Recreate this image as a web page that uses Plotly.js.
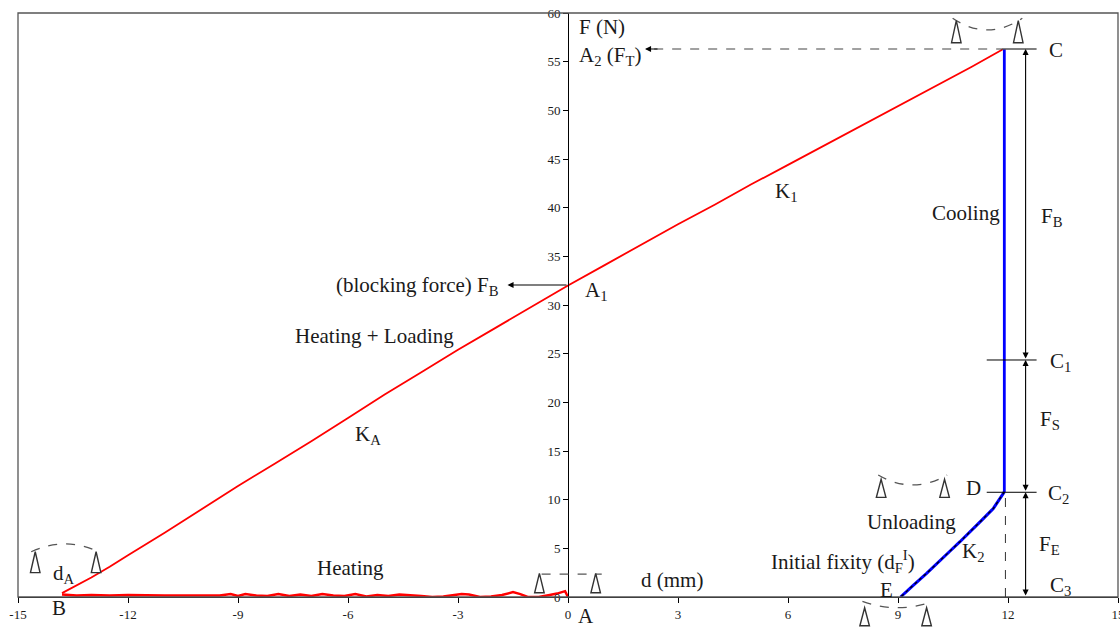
<!DOCTYPE html>
<html>
<head>
<meta charset="utf-8">
<script src="https://cdn.plot.ly/plotly-3.0.1.min.js"></script>
<style>
  html, body { margin: 0; padding: 0; background: #ffffff; }
  #chart { width: 1120px; height: 627px; }
</style>
</head>
<body>
<div id="chart"></div>
<script>
// Force F (N) against displacement d (mm) for one thermo-mechanical cycle.

// Heating + Loading branch (B -> A1 -> C)
const loadX = [-13.8, -13.5, -13.0, -12.5, -12.0, -11.0, -10.0, -9.0, -8.0, -7.0, -6.0, -5.0, -4.0, -3.0,
               -2.0, -1.0, 0.0, 1.0, 2.0, 3.0, 4.0, 5.0, 6.0, 7.0, 8.0, 9.0, 10.0, 11.0, 11.85];
const loadY = [0.4, 1.0, 2.0, 3.1, 4.3, 6.6, 9.0, 11.4, 13.7, 16.0, 18.4, 20.8, 23.1, 25.4,
               27.6, 29.8, 32.0, 34.1, 36.2, 38.3, 40.3, 42.4, 44.4, 46.4, 48.4, 50.4, 52.4, 54.45, 56.25];

// Free heating branch (A -> B), close to zero force
const heatX = [-13.8, -13.4, -13.0, -12.5, -12.0, -11.5, -11.0, -10.5, -10.0, -9.5, -9.2, -9.0, -8.8, -8.5,
               -8.2, -7.9, -7.6, -7.3, -7.0, -6.7, -6.4, -6.1, -5.8, -5.5, -5.2, -4.9, -4.6, -4.3, -4.0,
               -3.7, -3.4, -3.1, -2.9, -2.7, -2.4, -2.1, -1.8, -1.5, -1.3, -1.1, -0.8, -0.5, -0.3, -0.08, 0.0];
const heatY = [0.25, 0.15, 0.2, 0.15, 0.2, 0.15, 0.15, 0.15, 0.15, 0.15, 0.3, 0.1, 0.3, 0.15,
               0.1, 0.3, 0.1, 0.25, 0.1, 0.3, 0.15, 0.1, 0.3, 0.05, 0.2, 0.1, 0.25, 0.2, 0.1,
               0.0, 0.05, 0.2, 0.3, 0.25, 0.0, 0.05, 0.2, 0.5, 0.3, 0.0, 0.0, 0.2, 0.35, 0.6, 0.0];

// Cooling branch (C -> D), constant displacement
const coolX = [11.9, 11.9];
const coolY = [56.25, 10.8];

// Unloading branch (D -> E)
const unloadX = [11.9, 11.75, 11.6, 11.3, 11.0, 10.69, 10.4, 10.1, 9.78, 9.4, 9.07];
const unloadY = [10.8, 9.9, 9.1, 7.95, 6.8, 5.68, 4.65, 3.55, 2.43, 1.15, 0.0];

// Axis ticks
const xTicks = [-15, -12, -9, -6, -3, 0, 3, 6, 9, 12, 15];
const yTicks = [0, 5, 10, 15, 20, 25, 30, 35, 40, 45, 50, 55, 60];

const X_RANGE = [-15, 15];
const Y_RANGE = [0, 60];
const SERIF = 'Liberation Serif, Times New Roman, serif';
const INK = '#1a1a1a';
const LABEL_SIZE = 21;

// data -> paper helpers for decorations that may sit outside the plot area
const px = x => (x - X_RANGE[0]) / (X_RANGE[1] - X_RANGE[0]);
const py = y => (y - Y_RANGE[0]) / (Y_RANGE[1] - Y_RANGE[0]);

const traces = [
  { x: heatX, y: heatY, mode: 'lines', line: { color: '#ff0000', width: 2.5 }, hoverinfo: 'skip' },
  { x: loadX, y: loadY, mode: 'lines', line: { color: '#ff0000', width: 1.8 }, hoverinfo: 'skip' },
  { x: coolX, y: coolY, mode: 'lines', line: { color: '#0000ff', width: 2.8 }, hoverinfo: 'skip' },
  { x: unloadX, y: unloadY, mode: 'lines', line: { color: '#0000ff', width: 3 }, hoverinfo: 'skip' },
  { x: unloadX, y: unloadY, mode: 'lines', line: { color: '#000000', width: 1.3, dash: 'dot' }, hoverinfo: 'skip' }
];

const shapes = [];
function pline(x0, y0, x1, y1, opts) {
  shapes.push(Object.assign({
    type: 'line', xref: 'paper', yref: 'paper',
    x0: px(x0), y0: py(y0), x1: px(x1), y1: py(y1),
    line: { color: '#000', width: 1 }
  }, opts || {}));
}
function arc(x0, y0, cx, cy, x1, y1) {
  shapes.push({
    type: 'path', xref: 'paper', yref: 'paper',
    path: `M ${px(x0)},${py(y0)} Q ${px(cx)},${py(cy)} ${px(x1)},${py(y1)}`,
    line: { color: '#555', width: 1.3, dash: 'dash' }
  });
}
// gauge marker: slim upright triangle
function gauge(cx, yApex, yBase) {
  const hw = 0.13;
  shapes.push({
    type: 'path', xref: 'paper', yref: 'paper',
    path: `M ${px(cx)},${py(yApex)} L ${px(cx + hw)},${py(yBase)} L ${px(cx - hw)},${py(yBase)} Z`,
    fillcolor: '#ffffff', line: { color: '#333', width: 1.4 }
  });
}

// plot frame
shapes.push({ type: 'rect', xref: 'paper', yref: 'paper', x0: 0, y0: 0, x1: 1, y1: 1,
              line: { color: '#555', width: 1.3 } });

// A2 (F_T) leader from peak C
pline(2.35, 56.3, 11.83, 56.3, { line: { color: '#444', width: 1.2, dash: 'dash' } });
// level marks at C, C1, C2
pline(11.83, 56.3, 12.78, 56.3);
pline(11.42, 24.35, 12.78, 24.35);
pline(11.42, 10.76, 12.78, 10.76);
// drop from D to the axis
pline(11.93, 0, 11.93, 10.76, { line: { color: '#333', width: 1, dash: 'dash' } });
// d (mm) gauge bar near A
pline(-0.72, 2.36, 0.92, 2.36, { line: { color: '#555', width: 1.2, dash: 'dash' } });

// gauge arcs
arc(10.49, 59.46, 11.44, 57.06, 12.39, 59.46);   // near C
arc(8.46, 12.53, 9.40, 10.49, 10.34, 12.53);     // near D
arc(8.03, -0.46, 9.0, -1.74, 9.94, -0.46);       // below E
arc(-14.64, 4.65, -13.72, 6.25, -12.81, 4.65);   // d_A near B

// gauge triangles
gauge(10.59, 59.21, 56.95); gauge(12.28, 59.21, 56.95);
gauge(8.54, 12.09, 10.24);  gauge(10.27, 12.09, 10.24);
gauge(8.09, -1.1, -2.95);   gauge(9.78, -1.1, -2.95);
gauge(-14.53, 4.65, 2.5);   gauge(-12.87, 4.65, 2.5);
gauge(-0.78, 2.43, 0.44);   gauge(0.755, 2.43, 0.44);

const annotations = [];
function label(text, x, y, opts) {
  annotations.push(Object.assign({
    text: text, x: x, y: y, xref: 'x', yref: 'y', showarrow: false,
    xanchor: 'center', yanchor: 'middle',
    font: { family: SERIF, size: LABEL_SIZE, color: INK }
  }, opts || {}));
}
function arrow(x, y, ax, ay, side) {
  annotations.push({
    text: '', x: x, y: y, ax: ax, ay: ay, xref: 'x', yref: 'y', axref: 'x', ayref: 'y',
    showarrow: true, arrowhead: 2, arrowsize: 1.1, arrowwidth: 1.1, arrowcolor: '#000',
    arrowside: side || 'end', standoff: 0, startstandoff: 0
  });
}

label('F (N)', 0.25, 58.56, { xanchor: 'left' });
label('A<sub>2</sub> (F<sub>T</sub>)', 0.25, 55.6, { xanchor: 'left' });
label('C', 13.31, 56.2);
label('F<sub>B</sub>', 13.19, 39.0);
label('Cooling', 11.84, 39.45, { xanchor: 'right' });
label('K<sub>1</sub>', 5.95, 41.6);
label('(blocking force) F<sub>B</sub>', -1.82, 32.0, { xanchor: 'right' });
label('A<sub>1</sub>', 0.4, 31.4, { xanchor: 'left' });
label('Heating + Loading', -5.29, 26.8);
label('K<sub>A</sub>', -5.45, 16.6);
label('C<sub>1</sub>', 13.42, 24.1);
label('F<sub>S</sub>', 13.14, 18.2);
label('D', 11.05, 11.17);
label('C<sub>2</sub>', 13.37, 10.6);
label('Unloading', 9.37, 7.74);
label('F<sub>E</sub>', 13.14, 5.3);
label('K<sub>2</sub>', 11.05, 4.6);
label('Initial fixity (d<sub>F</sub><sup>I</sup>)', 7.49, 3.63);
label('Heating', -5.92, 2.98);
label('d<sub>A</sub>', -13.75, 2.4);
label('d (mm)', 2.84, 1.75);
label('C<sub>3</sub>', 13.42, 1.1);
label('E', 8.69, 0.72);
label('B', -13.87, py(-1.16), { yref: 'paper' });
label('A', 0.5, py(-2.0), { yref: 'paper' });

// blocking force pointer
arrow(-1.65, 32.05, 0, 32.05);
// A2 pointer head (dashed leader is a shape)
annotations.push({
  text: '', x: 2.1, y: 56.3, ax: 14, ay: 0, xref: 'x', yref: 'y',
  showarrow: true, arrowhead: 2, arrowsize: 1.1, arrowwidth: 1.1, arrowcolor: '#000', standoff: 0
});
// force split arrows F_B, F_S, F_E
arrow(12.48, 56.3, 12.48, 24.35, 'end+start');
arrow(12.48, 24.35, 12.48, 10.76, 'end+start');
arrow(12.48, 10.76, 12.48, 0, 'end+start');

const layout = {
  width: 1120, height: 627,
  margin: { l: 18, r: 2, t: 13, b: 30, pad: 0 },
  paper_bgcolor: '#ffffff', plot_bgcolor: '#ffffff',
  showlegend: false,
  font: { family: SERIF, color: INK },
  xaxis: {
    range: X_RANGE, tickvals: xTicks, ticktext: xTicks.map(String),
    showgrid: false, zeroline: false,
    showline: true, linecolor: '#000', linewidth: 1.3,
    ticks: 'outside', ticklen: 5, tickwidth: 1, tickcolor: '#000',
    ticklabeloverflow: 'allow',
    tickfont: { family: SERIF, size: 13, color: INK }, fixedrange: true
  },
  yaxis: {
    range: Y_RANGE, tickvals: yTicks, ticktext: yTicks.map(String),
    anchor: 'free', position: 0.5, side: 'left',
    showgrid: false, zeroline: false,
    showline: true, linecolor: '#000', linewidth: 1.3,
    ticks: 'outside', ticklen: 5, tickwidth: 1, tickcolor: '#000',
    ticklabeloverflow: 'allow',
    tickfont: { family: SERIF, size: 13, color: INK }, fixedrange: true
  },
  shapes: shapes,
  annotations: annotations
};

Plotly.newPlot('chart', traces, layout, { displayModeBar: false, staticPlot: true });
</script>
</body>
</html>
